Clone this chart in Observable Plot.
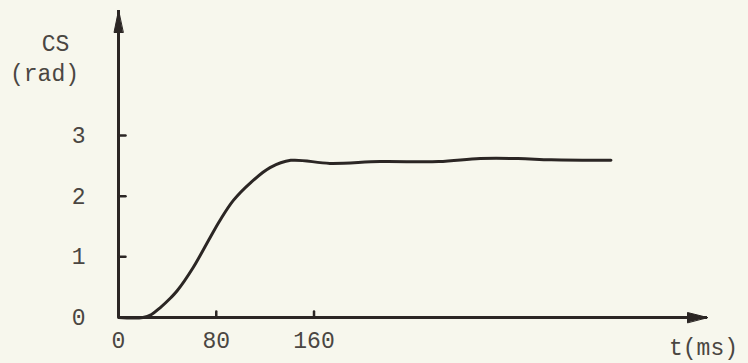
<!DOCTYPE html>
<html>
<head>
<meta charset="utf-8">
<script src="https://cdn.jsdelivr.net/npm/d3@7"></script>
<script src="https://cdn.jsdelivr.net/npm/@observablehq/plot@0.6"></script>
<style>
  html, body { margin: 0; padding: 0; background: #f7f7ed; }
  #chart { width: 748px; height: 363px; }
</style>
</head>
<body>
<div id="chart"></div>
<script>
// Data
const tMs = [0, 20, 27, 34, 43, 48, 61, 75, 83, 94, 108, 124, 141, 173, 214, 262, 296, 327, 354, 403];
const csRad = [0, 0, 0.05, 0.16, 0.33, 0.44, 0.82, 1.32, 1.60, 1.93, 2.22, 2.47, 2.59, 2.54, 2.57, 2.57, 2.62, 2.62, 2.60, 2.59];
const xTicks = [0, 80, 160];
const yTicks = [0, 1, 2, 3];
const xMax = 482;   // end of the time axis (arrow tip)
const yMax = 5.06;  // end of the CS axis (arrow tip)

const data = tMs.map((t, i) => ({t, cs: csRad[i]}));
const ink = "#2b2624";
const textInk = "#4a4642";
const font = "'Liberation Mono', 'DejaVu Sans Mono', monospace";

const arrowHead = {
  draw(context, l, r) {
    context.moveTo(0, -l);
    context.lineTo(-r, 0);
    context.lineTo(r, 0);
    context.closePath();
  }
};
const tickShape = {
  draw(context, l) {
    context.moveTo(0, 0);
    context.lineTo(0, -l);
  }
};

const chart = Plot.plot({
  width: 748,
  height: 363,
  marginLeft: 118,
  marginRight: 41,
  marginTop: 10,
  marginBottom: 46,
  style: {background: "#f7f7ed", fontFamily: font, fontSize: "23px", color: ink},
  x: {domain: [0, xMax]},
  y: {domain: [0, yMax]},
  marks: [
    Plot.ruleX([0], {stroke: ink, strokeWidth: 3}),
    Plot.ruleY([0], {stroke: ink, strokeWidth: 3}),
    Plot.vector([{x: 0, y: yMax}], {x: "x", y: "y", anchor: "end", length: 22, r: 4.5, shape: arrowHead, fill: ink, stroke: ink, strokeWidth: 1}),
    Plot.vector([{x: xMax, y: 0}], {x: "x", y: "y", anchor: "end", rotate: 90, length: 20, r: 5, shape: arrowHead, fill: ink, stroke: ink, strokeWidth: 1}),
    // inward ticks
    Plot.vector(yTicks.filter(d => d > 0), {x: 0, y: d => d, anchor: "start", rotate: 90, length: 7, shape: tickShape, stroke: ink, strokeWidth: 2.5}),
    Plot.vector(xTicks.filter(d => d > 0), {x: d => d, y: 0, anchor: "start", rotate: 0, length: 6, shape: tickShape, stroke: ink, strokeWidth: 2.5}),
    Plot.axisY({ticks: yTicks, tickSize: 0, tickPadding: 33, tickFormat: d => String(d), label: null, fill: textInk, fontSize: 23}),
    Plot.axisX({ticks: xTicks, tickSize: 0, tickPadding: 14, tickFormat: d => String(d), label: null, fill: textInk, fontSize: 23}),
    Plot.line(data, {x: "t", y: "cs", curve: "catmull-rom", stroke: ink, strokeWidth: 3}),
    Plot.text(["CS"], {frameAnchor: "top-left", dx: -63, dy: 33, lineAnchor: "middle", fill: textInk, fontSize: 23, textAnchor: "middle"}),
    Plot.text(["(rad)"], {frameAnchor: "top-left", dx: -74, dy: 63, lineAnchor: "middle", fill: textInk, fontSize: 23, textAnchor: "middle"}),
    Plot.text(["t(ms)"], {frameAnchor: "bottom-right", dx: -4, dy: 30, lineAnchor: "middle", fill: textInk, fontSize: 23, textAnchor: "middle"})
  ]
});
document.getElementById("chart").appendChild(chart);
</script>
</body>
</html>
